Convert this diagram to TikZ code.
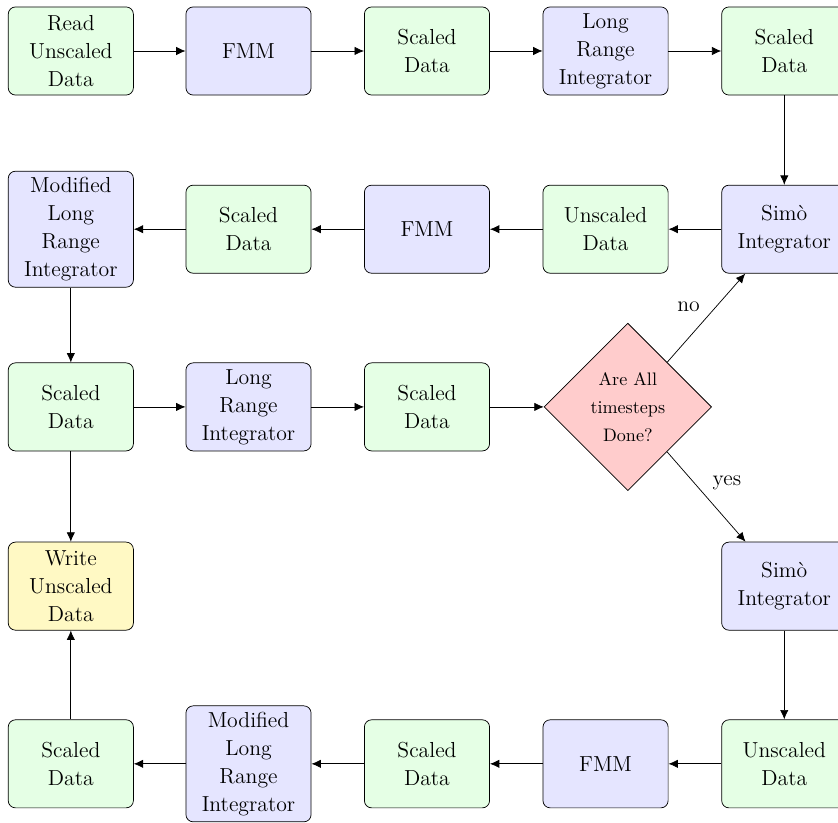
\documentclass[tikz,border=0pt]{standalone}
\usepackage{tikz}
\usetikzlibrary{shapes.geometric,arrows.meta}

\definecolor{outyellow}{RGB}{255,249,196}

\begin{document}
\begin{tikzpicture}[
    >={Latex[length=5.2pt,width=4.6pt]},
    databox/.style={
        draw=black,
        fill=green!10,
        rounded corners,
        minimum width=2.43cm,
        minimum height=1.71cm,
        align=center,
        font={\fontsize{12}{15.5}\selectfont}
    },
    procbox/.style={databox, fill=blue!10},
    outbox/.style={databox, fill=outyellow},
    decbox/.style={
        diamond,
        draw=black,
        fill=red!20,
        aspect=1,
        minimum width=3.25cm,
        minimum height=3.25cm,
        inner sep=1pt,
        align=center,
        font={\fontsize{10}{15.5}\selectfont}
    },
    lbl/.style={font=\large}
]

\useasboundingbox (0,0) rectangle (16.27,-15.96);

% first row
\node[databox] (read) at (1.375,-0.99) {Read\\Unscaled\\Data};
\node[procbox] (fmm1) at (4.825,-0.99) {FMM};
\node[databox] (sd1) at (8.29,-0.99) {Scaled\\Data};
\node[procbox] (lri1) at (11.757,-0.99) {Long\\Range\\Integrator};
\node[databox] (sd2) at (15.227,-0.99) {Scaled\\Data};

% second row
\node[procbox] (simo1) at (15.227,-4.45) {Sim\`o\\Integrator};
\node[databox] (ud1) at (11.757,-4.45) {Unscaled\\Data};
\node[procbox] (fmm2) at (8.29,-4.45) {FMM};
\node[databox] (sd3) at (4.825,-4.45) {Scaled\\Data};
\node[procbox] (mlri1) at (1.375,-4.45) {Modified\\Long\\Range\\Integrator};

% third row
\node[databox] (sd4) at (1.375,-7.90) {Scaled\\Data};
\node[procbox] (lri2) at (4.825,-7.90) {Long\\Range\\Integrator};
\node[databox] (sd5) at (8.29,-7.90) {Scaled\\Data};
\node[decbox] (done) at (12.19,-7.90) {Are All\\timesteps\\Done?};

% fourth row
\node[outbox] (write) at (1.375,-11.38) {Write\\Unscaled\\Data};
\node[procbox] (simo2) at (15.227,-11.38) {Sim\`o\\Integrator};

% last row
\node[databox] (ud2) at (15.227,-14.83) {Unscaled\\Data};
\node[procbox] (fmm3) at (11.757,-14.83) {FMM};
\node[databox] (sd6) at (8.29,-14.83) {Scaled\\Data};
\node[procbox] (mlri2) at (4.825,-14.83) {Modified\\Long\\Range\\Integrator};
\node[databox] (sd7) at (1.375,-14.83) {Scaled\\Data};

\draw[->] (read) -- (fmm1);
\draw[->] (fmm1) -- (sd1);
\draw[->] (sd1) -- (lri1);
\draw[->] (lri1) -- (sd2);
\draw[->] (sd2) -- (simo1);
\draw[->] (simo1) -- (ud1);
\draw[->] (ud1) -- (fmm2);
\draw[->] (fmm2) -- (sd3);
\draw[->] (sd3) -- (mlri1);
\draw[->] (mlri1) -- (sd4);
\draw[->] (sd4) -- (lri2);
\draw[->] (lri2) -- (sd5);
\draw[->] (sd5) -- (done);
\draw[->] (done) -- node[lbl, above left] {no} (simo1);
\draw[->] (done) -- node[lbl, above right] {yes} (simo2);
\draw[->] (sd4) -- (write);
\draw[->] (simo2) -- (ud2);
\draw[->] (ud2) -- (fmm3);
\draw[->] (fmm3) -- (sd6);
\draw[->] (sd6) -- (mlri2);
\draw[->] (mlri2) -- (sd7);
\draw[->] (sd7) -- (write);

\end{tikzpicture}
\end{document}
